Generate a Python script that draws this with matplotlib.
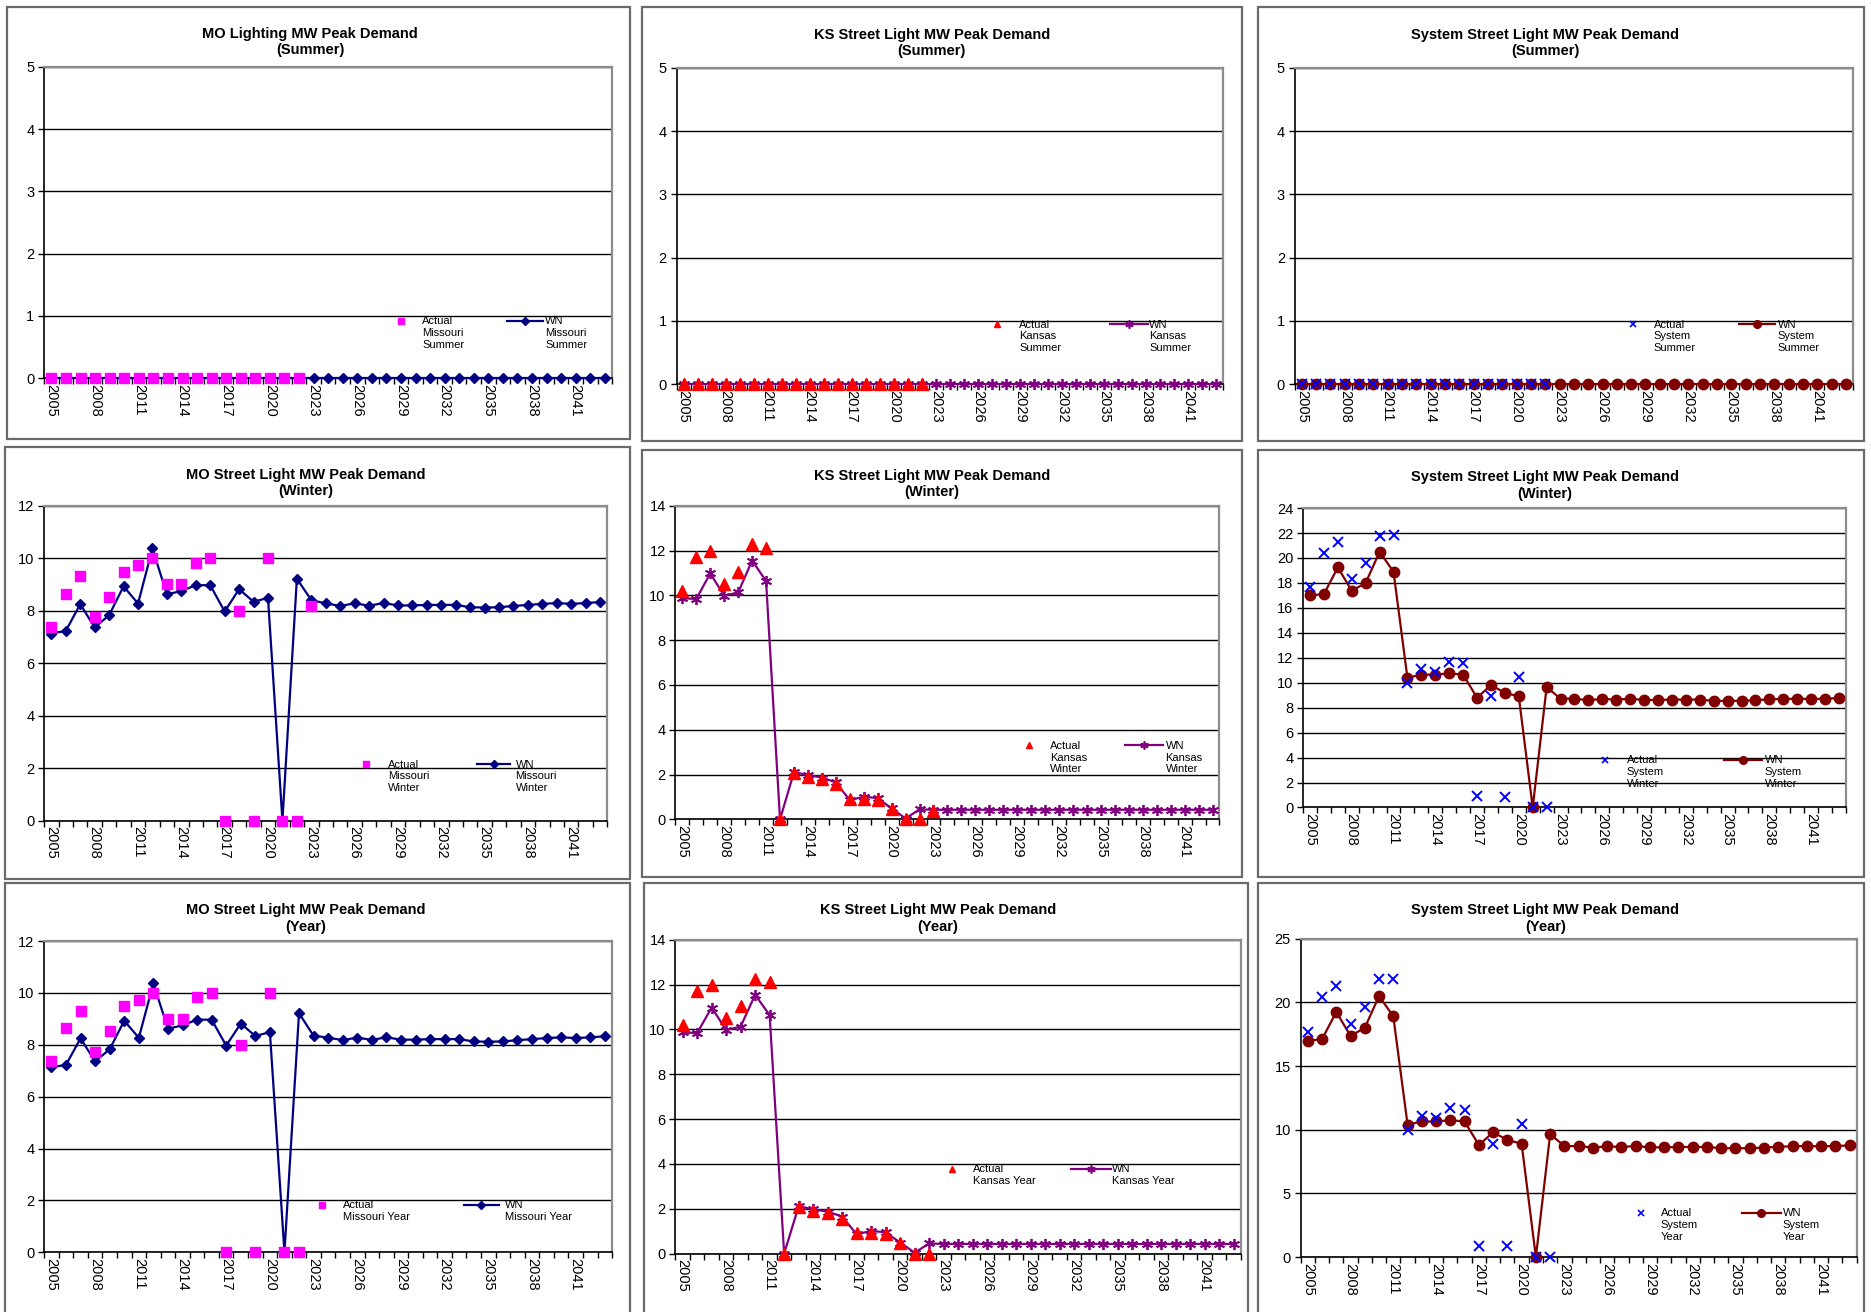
import matplotlib
matplotlib.use("Agg")
import matplotlib.pyplot as plt
from matplotlib.patches import Rectangle
from matplotlib.ticker import FixedLocator, MultipleLocator

plt.rcParams['font.family'] = ['Liberation Sans', 'DejaVu Sans']

years = list(range(2005, 2044))
tick_years = list(range(2005, 2044, 3))

# Missouri
mo_summer_actual = [0, 0, 0, 0, 0, 0, 0, 0, 0, 0, 0, 0, 0, 0, 0, 0, 0, 0]
mo_summer_wn = [0, 0, 0, 0, 0, 0, 0, 0, 0, 0, 0, 0, 0, 0, 0, 0, 0, 0, 0, 0,
                0, 0, 0, 0, 0, 0, 0, 0, 0, 0, 0, 0, 0, 0, 0, 0, 0, 0, 0]
mo_winter_actual = [7.36, 8.65, 9.31, 7.74, 8.53, 9.48, 9.73, 9.99, 9.0, 9.0,
                    9.83, 9.99, 0.0, 7.98, 0.0, 9.99, 0.0, 0.0, 8.18]
mo_winter_wn = [7.13, 7.23, 8.25, 7.36, 7.83, 8.93, 8.27, 10.37, 8.62, 8.75,
                8.97, 8.97, 7.97, 8.82, 8.34, 8.49, 0.0, 9.22, 8.4, 8.28,
                8.18, 8.28, 8.19, 8.29, 8.2, 8.2, 8.22, 8.22, 8.22, 8.13,
                8.12, 8.13, 8.18, 8.22, 8.26, 8.29, 8.26, 8.29, 8.33]
mo_year_actual = [7.36, 8.65, 9.31, 7.74, 8.53, 9.48, 9.73, 9.99, 9.0, 9.0,
                  9.83, 9.99, 0.0, 7.98, 0.0, 9.99, 0.0, 0.0]
mo_year_wn = [7.13, 7.23, 8.25, 7.36, 7.83, 8.93, 8.27, 10.37, 8.62, 8.75,
              8.97, 8.97, 7.97, 8.82, 8.34, 8.49, 0.0, 9.22, 8.35, 8.28,
              8.18, 8.28, 8.19, 8.29, 8.2, 8.2, 8.22, 8.22, 8.22, 8.13,
              8.12, 8.13, 8.18, 8.22, 8.26, 8.29, 8.26, 8.29, 8.33]

# Kansas
ks_summer_actual = [0, 0, 0, 0, 0, 0, 0, 0, 0, 0, 0, 0, 0, 0, 0, 0, 0, 0]
ks_summer_wn = [0, 0, 0, 0, 0, 0, 0, 0, 0, 0, 0, 0, 0, 0, 0, 0, 0, 0, 0, 0,
                0, 0, 0, 0, 0, 0, 0, 0, 0, 0, 0, 0, 0, 0, 0, 0, 0, 0, 0]
ks_winter_actual = [10.2, 11.7, 12.0, 10.5, 11.05, 12.27, 12.12, 0.0, 2.08, 1.9,
                    1.8, 1.56, 0.9, 0.92, 0.86, 0.45, 0.0, 0.0, 0.39]
ks_winter_wn = [9.87, 9.84, 10.98, 9.98, 10.13, 11.55, 10.64, 0.0, 2.11, 1.98,
                1.87, 1.65, 0.86, 1.01, 0.95, 0.49, 0.04, 0.45, 0.43, 0.43,
                0.43, 0.43, 0.43, 0.43, 0.43, 0.43, 0.43, 0.43, 0.43, 0.43,
                0.43, 0.43, 0.43, 0.43, 0.43, 0.43, 0.43, 0.43, 0.43]
ks_year_actual = [10.2, 11.7, 12.0, 10.5, 11.05, 12.27, 12.12, 0.0, 2.08, 1.9,
                  1.8, 1.56, 0.9, 0.92, 0.86, 0.45, 0.0, 0.0]
ks_year_wn = ks_winter_wn

# System
sys_summer_actual = [0, 0, 0, 0, 0, 0, 0, 0, 0, 0, 0, 0, 0, 0, 0, 0, 0, 0]
sys_summer_wn = [0, 0, 0, 0, 0, 0, 0, 0, 0, 0, 0, 0, 0, 0, 0, 0, 0, 0, 0, 0,
                 0, 0, 0, 0, 0, 0, 0, 0, 0, 0, 0, 0, 0, 0, 0, 0, 0, 0, 0]
sys_winter_actual = [17.64, 20.4, 21.3, 18.3, 19.6, 21.8, 21.85, 9.97, 11.1, 10.9,
                     11.7, 11.55, 0.9, 8.9, 0.86, 10.45, 0.0, 0.0]
sys_winter_wn = [17.0, 17.1, 19.25, 17.37, 18.0, 20.5, 18.9, 10.4, 10.65, 10.65,
                 10.75, 10.65, 8.8, 9.8, 9.2, 8.9, 0.0, 9.65, 8.72, 8.72,
                 8.6, 8.7, 8.65, 8.72, 8.62, 8.62, 8.65, 8.65, 8.65, 8.55,
                 8.55, 8.55, 8.6, 8.67, 8.7, 8.72, 8.7, 8.72, 8.77]
sys_year_actual = sys_winter_actual
sys_year_wn = sys_winter_wn

W, H = 1568.0, 1100.0


def frac(x1, y1, x2, y2):
    return [x1 / W, 1 - y2 / H, (x2 - x1) / W, (y2 - y1) / H]


styles = {
    "MO": dict(a=dict(marker="s", color="#FF00FF", ms=7.5, ls="none"),
               w=dict(marker="D", color="#000080", ms=5.5, lw=1.6),
               la=dict(marker="s", color="#FF00FF", ms=4.5),
               lw_=dict(marker="D", color="#000080", ms=4)),
    "KS": dict(a=dict(marker="^", color="#FF0000", ms=9, ls="none"),
               w=dict(marker=(6, 2, 0), color="#800080", ms=8, lw=1.6, mew=1.3),
               la=dict(marker="^", color="#FF0000", ms=5),
               lw_=dict(marker=(6, 2, 0), color="#800080", ms=6, mew=1.2)),
    "SYS": dict(a=dict(marker="x", color="#0000FF", ms=7.5, ls="none", mew=1.4),
                w=dict(marker="o", color="#800000", ms=7.5, lw=1.6),
                la=dict(marker="x", color="#0000FF", ms=4.5, mew=1.2),
                lw_=dict(marker="o", color="#800000", ms=5.5)),
}

panels = [
    # title, sub, kind, actual, wn, ymax, ystep, box, plot, title_x, title_y, legend, labels
    ("MO Lighting MW Peak Demand", "(Summer)", "MO", mo_summer_actual, mo_summer_wn, 5, 1,
     (6, 6, 528, 368), (37, 56, 513, 317), 260, 35,
     (0.628, 0.184, 0.666, 0.815, 0.878, 0.882),
     ("Actual\nMissouri\nSummer", "WN\nMissouri\nSummer")),
    ("KS Street Light MW Peak Demand", "(Summer)", "KS", ks_summer_actual, ks_summer_wn, 5, 1,
     (538, 6, 1041, 370), (567, 57, 1025, 322), 781, 36,
     (0.587, 0.19, 0.627, 0.793, 0.862, 0.865),
     ("Actual\nKansas\nSummer", "WN\nKansas\nSummer")),
    ("System Street Light MW Peak Demand", "(Summer)", "SYS", sys_summer_actual, sys_summer_wn, 5, 1,
     (1054, 6, 1562, 370), (1085, 57, 1553, 322), 1295, 36,
     (0.605, 0.189, 0.643, 0.795, 0.861, 0.865),
     ("Actual\nSystem\nSummer", "WN\nSystem\nSummer")),
    ("MO Street Light MW Peak Demand", "(Winter)", "MO", mo_winter_actual, mo_winter_wn, 12, 2,
     (4, 375, 528, 737), (37, 424, 509, 688), 256, 405,
     (0.572, 0.18, 0.61, 0.769, 0.828, 0.837),
     ("Actual\nMissouri\nWinter", "WN\nMissouri\nWinter")),
    ("KS Street Light MW Peak Demand", "(Winter)", "KS", ks_winter_actual, ks_winter_wn, 14, 2,
     (538, 377, 1041, 735), (566, 424, 1022, 687), 781, 406,
     (0.649, 0.236, 0.689, 0.827, 0.897, 0.901),
     ("Actual\nKansas\nWinter", "WN\nKansas\nWinter")),
    ("System Street Light MW Peak Demand", "(Winter)", "SYS", sys_winter_actual, sys_winter_wn, 24, 2,
     (1054, 377, 1562, 735), (1092, 426, 1547, 677), 1295, 407,
     (0.556, 0.16, 0.596, 0.776, 0.846, 0.85),
     ("Actual\nSystem\nWinter", "WN\nSystem\nWinter")),
    ("MO Street Light MW Peak Demand", "(Year)", "MO", mo_year_actual, mo_year_wn, 12, 2,
     (4, 740, 528, 1110), (37, 789, 513, 1050), 256, 770,
     (0.489, 0.153, 0.527, 0.74, 0.80, 0.811),
     ("Actual\nMissouri Year", "WN\nMissouri Year")),
    ("KS Street Light MW Peak Demand", "(Year)", "KS", ks_year_actual, ks_year_wn, 14, 2,
     (540, 740, 1046, 1110), (566, 788, 1040, 1051), 786, 770,
     (0.489, 0.27, 0.527, 0.70, 0.77, 0.772),
     ("Actual\nKansas Year", "WN\nKansas Year")),
    ("System Street Light MW Peak Demand", "(Year)", "SYS", sys_year_actual, sys_year_wn, 25, 5,
     (1054, 740, 1562, 1110), (1090, 787, 1556, 1054), 1295, 770,
     (0.612, 0.139, 0.648, 0.794, 0.863, 0.867),
     ("Actual\nSystem\nYear", "WN\nSystem\nYear")),
]

fig = plt.figure(figsize=(18.71, 13.12), dpi=100)

for (title, sub, kind, actual, wn, ymax, ystep, box, plot, tx, ty, leg, labels) in panels:
    b = frac(*box)
    fig.patches.append(Rectangle((b[0], b[1]), b[2], b[3], transform=fig.transFigure,
                                 fill=False, edgecolor="#6a6a6a", lw=1.6))
    fig.text(tx / W, 1 - ty / H, title + "\n" + sub, ha="center", va="center",
             fontsize=10.5, fontweight="bold", linespacing=1.2)

    ax = fig.add_axes(frac(*plot))
    st = styles[kind]
    xs = list(range(len(years)))
    ax.plot(xs[:len(wn)], wn, clip_on=False, zorder=3, **st["w"])
    ax.plot(xs[:len(actual)], actual, clip_on=False, zorder=4, **st["a"])

    ax.set_xlim(-0.5, len(years) - 0.5)
    ax.set_ylim(0, ymax)
    ax.yaxis.set_major_locator(MultipleLocator(ystep))
    ax.grid(axis="y", color="black", lw=1.0)
    ax.set_axisbelow(True)

    ax.xaxis.set_major_locator(FixedLocator([years.index(y) for y in tick_years]))
    ax.set_xticklabels([str(y) for y in tick_years], rotation=-90, fontsize=10.5)
    ax.xaxis.set_minor_locator(FixedLocator([i - 0.5 for i in range(len(years) + 1)]))
    ax.tick_params(axis="x", which="major", length=0, pad=4)
    ax.tick_params(axis="x", which="minor", length=4, width=1, direction="out")
    ax.tick_params(axis="y", length=4, width=1, labelsize=10.5, pad=3)

    for s in ("top", "right"):
        ax.spines[s].set_color("#8c8c8c")
        ax.spines[s].set_linewidth(1.6)
    ax.spines["left"].set_color("black")
    ax.spines["left"].set_linewidth(1.2)
    ax.spines["bottom"].set_color("black")
    ax.spines["bottom"].set_linewidth(1.2)

    # legend drawn by hand
    mx, my, tx1, lx1, lx2, tx2 = leg
    ax.plot([mx], [my], transform=ax.transAxes, clip_on=False, ls="none", **st["la"])
    ax.text(tx1, my + 0.014, labels[0], transform=ax.transAxes, ha="left", va="top",
            fontsize=8, linespacing=1.2)
    ax.plot([lx1, lx2], [my, my], transform=ax.transAxes, clip_on=False,
            color=st["w"]["color"], lw=1.6)
    ax.plot([(lx1 + lx2) / 2], [my], transform=ax.transAxes, clip_on=False,
            ls="none", **st["lw_"])
    ax.text(tx2, my + 0.014, labels[1], transform=ax.transAxes, ha="left", va="top",
            fontsize=8, linespacing=1.2)

plt.savefig("out.png", dpi=100)
